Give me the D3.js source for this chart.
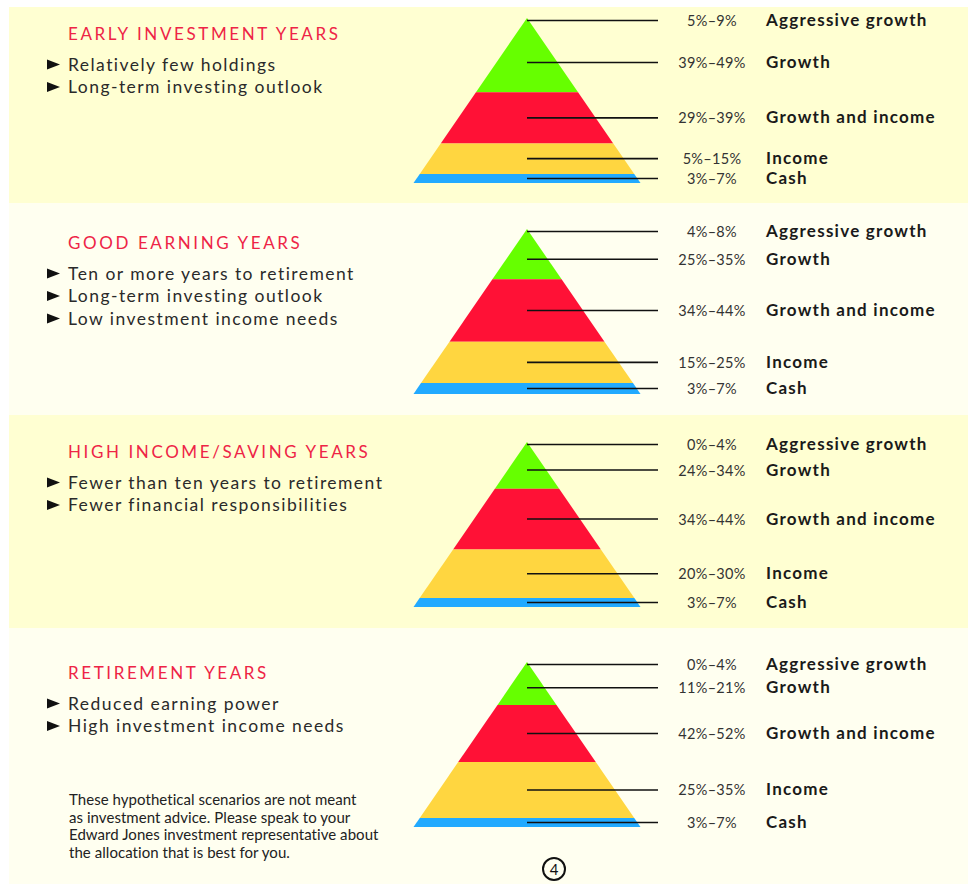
<!DOCTYPE html>
<html>
<head>
<meta charset="utf-8">
<script src="https://cdn.jsdelivr.net/npm/d3@7"></script>
<style>
  html, body { margin: 0; padding: 0; background: #fff; }
  svg { display: block; }
  text { font-family: Lato, "Open Sans", sans-serif; }
</style>
</head>
<body>
<div id="chart"></div>
<script>
// ---- data ----
const panelTitles = [
  "EARLY INVESTMENT YEARS",
  "GOOD EARNING YEARS",
  "HIGH INCOME/SAVING YEARS",
  "RETIREMENT YEARS",
];
const panelBullets = [
  ["Relatively few holdings", "Long-term investing outlook"],
  ["Ten or more years to retirement", "Long-term investing outlook", "Low investment income needs"],
  ["Fewer than ten years to retirement", "Fewer financial responsibilities"],
  ["Reduced earning power", "High investment income needs"],
];
const categories = ["Aggressive growth", "Growth", "Growth and income", "Income", "Cash"];
const rangeLow = [
  [5, 39, 29, 5, 3],
  [4, 25, 34, 15, 3],
  [0, 24, 34, 20, 3],
  [0, 11, 42, 25, 3],
];
const rangeHigh = [
  [9, 49, 39, 15, 7],
  [8, 35, 44, 25, 7],
  [4, 34, 44, 30, 7],
  [4, 21, 52, 35, 7],
];
// band boundaries (green|red, red|yellow, yellow|blue) as share of pyramid height
const bandEdges = [
  [0.45, 0.76, 0.945],
  [0.305, 0.683, 0.934],
  [0.283, 0.651, 0.946],
  [0.26, 0.606, 0.945],
];
const disclaimer = [
  "These hypothetical scenarios are not meant",
  "as investment advice. Please speak to your",
  "Edward Jones investment representative about",
  "the allocation that is best for you.",
];
const pageNumber = "4";

// ---- layout ----
const width = 970;
const height = 884;
const panelTop = [7, 203, 415, 628];
const panelBottom = [203, 415, 628, 884];
const panelFill = ["#ffffd2", "#fffff0", "#ffffd2", "#fffff0"];
const titleOffset = [33, 46, 43, 51];
const apexOffset = [11, 26, 27, 34];
const pyrHeight = 165;
const pyrHalf = 113.5;
const apexX = 527;
const lineEnd = 658;
const pctX = 712;
const catX = 766;

const bandColors = ["#66ff00", "#ff1136", "#ffd640", "#22aaff"];

const svg = d3
  .select("#chart")
  .append("svg")
  .attr("width", width)
  .attr("height", height);

panelTitles.forEach((title, p) => {
  const g = svg.append("g").attr("class", "panel");

  g.append("rect")
    .attr("x", 9)
    .attr("y", panelTop[p])
    .attr("width", 959)
    .attr("height", panelBottom[p] - panelTop[p])
    .attr("fill", panelFill[p]);

  /* title + bullets */
  const titleY = panelTop[p] + titleOffset[p];
  g.append("text")
    .attr("x", 68)
    .attr("y", titleY)
    .attr("fill", "#ee2446")
    .style("font-size", "17px")
    .style("letter-spacing", "2.6px")
    .text(title);

  panelBullets[p].forEach((b, i) => {
    const by = titleY + 30.5 + i * 22.5;
    g.append("path")
      .attr("d", `M47,${by - 11}L60,${by - 6}L47,${by - 1}Z`)
      .attr("fill", "#111");
    g.append("text")
      .attr("x", 68)
      .attr("y", by)
      .attr("fill", "#2a2a2a")
      .style("font-size", "17.5px")
      .style("letter-spacing", "1.45px")
      .text(b);
  });

  /* pyramid */
  const apexY = panelTop[p] + apexOffset[p];
  const y = d3.scaleLinear().domain([0, 1]).range([apexY, apexY + pyrHeight]);
  const w = d3.scaleLinear().domain([0, 1]).range([0, pyrHalf]);

  const edges = [0, ...bandEdges[p], 1];
  const bands = d3.pairs(edges);

  g.selectAll(".band")
    .data(bands)
    .enter()
    .append("path")
    .attr("class", "band")
    .attr("d", ([t, b]) =>
      `M${apexX - w(t)},${y(t)}L${apexX + w(t)},${y(t)}` +
      `L${apexX + w(b)},${y(b)}L${apexX - w(b)},${y(b)}Z`
    )
    .attr("fill", (d, i) => bandColors[i]);

  // where each leader line sits, in share of pyramid height
  const e = bandEdges[p];
  const labelPos = [
    0.015,
    e[0] * 0.6,
    (e[0] + e[1]) / 2,
    (e[1] + e[2]) / 2,
    (e[2] + 1) / 2,
  ];

  const rows = categories.map((c, i) => ({
    name: c,
    pct: `${rangeLow[p][i]}%–${rangeHigh[p][i]}%`,
    pos: labelPos[i],
  }));

  const row = g.selectAll(".row").data(rows).enter().append("g").attr("class", "row");

  row.append("line")
    .attr("x1", apexX)
    .attr("x2", lineEnd)
    .attr("y1", (d) => y(d.pos))
    .attr("y2", (d) => y(d.pos))
    .attr("stroke", "#111")
    .attr("stroke-width", 1.6);

  row.append("text")
    .attr("x", pctX)
    .attr("y", (d) => y(d.pos) + 5.5)
    .attr("text-anchor", "middle")
    .attr("fill", "#333")
    .style("font-size", "14.5px")
    .style("letter-spacing", "0.3px")
    .text((d) => d.pct);

  row.append("text")
    .attr("x", catX)
    .attr("y", (d) => y(d.pos) + 5.5)
    .attr("fill", "#1a1a1a")
    .style("font-size", "17px")
    .style("font-weight", "bold")
    .style("letter-spacing", "1.25px")
    .text((d) => d.name);
});

/* disclaimer */
svg.selectAll(".disc")
  .data(disclaimer)
  .enter()
  .append("text")
  .attr("class", "disc")
  .attr("x", 69)
  .attr("y", (d, i) => 805 + i * 17.5)
  .attr("fill", "#222")
  .style("font-size", "15px")
  .style("letter-spacing", "0.05px")
  .text((d) => d);

/* page number */
svg.append("circle")
  .attr("cx", 554)
  .attr("cy", 869)
  .attr("r", 11)
  .attr("fill", "none")
  .attr("stroke", "#111")
  .attr("stroke-width", 2);
svg.append("text")
  .attr("x", 554)
  .attr("y", 874.5)
  .attr("text-anchor", "middle")
  .attr("fill", "#111")
  .style("font-size", "15px")
  .text(pageNumber);
</script>
</body>
</html>
